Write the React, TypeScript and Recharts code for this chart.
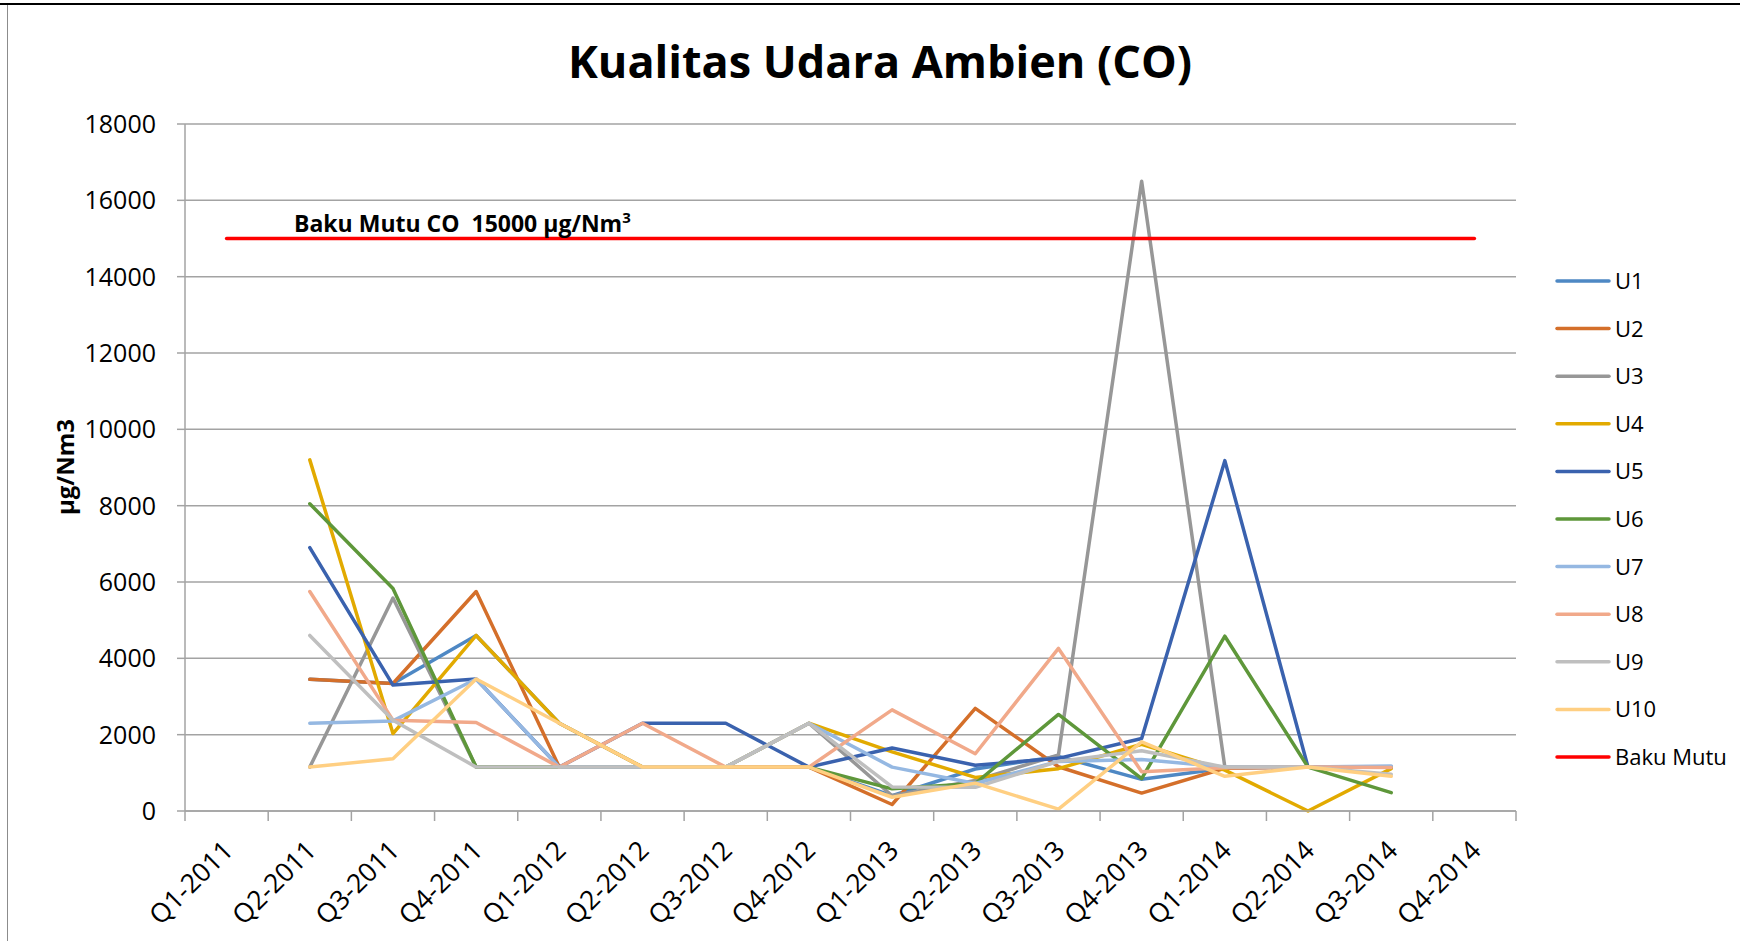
import { LineChart, Line, XAxis, YAxis, CartesianGrid } from 'recharts';

const quarters = [
  'Q1-2011', 'Q2-2011', 'Q3-2011', 'Q4-2011',
  'Q1-2012', 'Q2-2012', 'Q3-2012', 'Q4-2012',
  'Q1-2013', 'Q2-2013', 'Q3-2013', 'Q4-2013',
  'Q1-2014', 'Q2-2014', 'Q3-2014', 'Q4-2014',
];

const u1 = [null, 3450, 3340, 4600, 2300, 1150, 1150, 1150, 400, 1100, 1430, 830, 1120, 1150, 1150, null];
const u2 = [null, 3450, 3340, 5750, 1150, 1150, 1150, 1150, 170, 2690, 1160, 470, 1120, 1150, 1150, null];
const u3 = [null, 1150, 5580, 1150, 1150, 1150, 1150, 2300, 400, 800, 1470, 16500, 1150, 1150, 1150, null];
const u4 = [null, 9200, 2030, 4600, 2300, 1150, 1150, 2300, 1550, 880, 1110, 1750, 1070, 0, 1110, null];
const u5 = [null, 6900, 3300, 3460, 1150, 2300, 2300, 1150, 1650, 1200, 1380, 1900, 9180, 1150, 1150, null];
const u6 = [null, 8050, 5830, 1150, 1150, 1150, 1150, 1150, 580, 720, 2530, 850, 4580, 1150, 480, null];
const u7 = [null, 2300, 2360, 3460, 1150, 1150, 1150, 2300, 1150, 720, 1300, 1350, 1150, 1150, 1180, null];
const u8 = [null, 5750, 2380, 2320, 1150, 2300, 1150, 1150, 2650, 1500, 4260, 1030, 1130, 1150, 1140, null];
const u9 = [null, 4600, 2380, 1150, 1150, 1150, 1150, 2300, 630, 620, 1300, 1580, 1150, 1150, 960, null];
const u10 = [null, 1150, 1370, 3460, 2300, 1150, 1150, 1150, 360, 730, 50, 1810, 910, 1150, 910, null];
const bakuMutu = quarters.map(() => 15000);

const yTicks = [0, 2000, 4000, 6000, 8000, 10000, 12000, 14000, 16000, 18000];

const series = [
  { key: 'U1', values: u1, color: '#4E88C4' },
  { key: 'U2', values: u2, color: '#D46F2A' },
  { key: 'U3', values: u3, color: '#979797' },
  { key: 'U4', values: u4, color: '#E2AA00' },
  { key: 'U5', values: u5, color: '#3A62AE' },
  { key: 'U6', values: u6, color: '#5E973A' },
  { key: 'U7', values: u7, color: '#95B8E2' },
  { key: 'U8', values: u8, color: '#F1A98A' },
  { key: 'U9', values: u9, color: '#BFBFBF' },
  { key: 'U10', values: u10, color: '#FFCF82' },
  { key: 'Baku Mutu', values: bakuMutu, color: '#FF0000' },
];

const data = quarters.map((q, i) => {
  const row: Record<string, string | number | null> = { q };
  series.forEach((s) => {
    row[s.key] = s.values[i];
  });
  return row;
});

const W = 1740;
const H = 941;
const LEFT = 185;
const RIGHT = 1516;
const TOP = 124;
const BOTTOM = 811;
const HALF_BAND = (RIGHT - LEFT) / quarters.length / 2;
const FONT = '"Open Sans", "DejaVu Sans", sans-serif';
const AXIS_GRAY = '#A3A3A3';

function QuarterTick(props: any) {
  const { x, payload, index } = props;
  const last = index === quarters.length - 1;
  const tx = x + 8;
  const ty = BOTTOM + 41;
  return (
    <g>
      <line x1={x - HALF_BAND} y1={BOTTOM} x2={x - HALF_BAND} y2={BOTTOM + 10} stroke={AXIS_GRAY} strokeWidth={1.5} />
      {last && (
        <line x1={x + HALF_BAND} y1={BOTTOM} x2={x + HALF_BAND} y2={BOTTOM + 10} stroke={AXIS_GRAY} strokeWidth={1.5} />
      )}
      <text
        x={tx}
        y={ty}
        transform={`rotate(-45, ${tx}, ${ty})`}
        textAnchor="end"
        fontSize={26.5}
        fontFamily={FONT}
        fill="#000"
      >
        {payload.value}
      </text>
    </g>
  );
}

export default function App() {
  return (
    <div style={{ position: 'absolute', left: 0, top: 0, width: W, height: H, background: '#fff', fontFamily: FONT }}>
      <LineChart width={W} height={H} data={data} margin={{ top: TOP, right: W - RIGHT, left: 0, bottom: 0 }}>
        <CartesianGrid vertical={false} stroke={AXIS_GRAY} strokeWidth={1.5} />
        <XAxis
          dataKey="q"
          height={H - BOTTOM}
          padding={{ left: HALF_BAND, right: HALF_BAND }}
          axisLine={{ stroke: AXIS_GRAY, strokeWidth: 1.5 }}
          tickLine={false}
          tick={<QuarterTick />}
          interval={0}
        />
        <YAxis
          width={LEFT}
          domain={[0, 18000]}
          ticks={yTicks}
          interval={0}
          axisLine={{ stroke: AXIS_GRAY, strokeWidth: 1.5 }}
          tickLine={{ stroke: AXIS_GRAY, strokeWidth: 1.5 }}
          tickSize={8}
          tickMargin={21}
          tick={{ fontSize: 25, fill: '#000', fontFamily: FONT }}
        />
        {series.map((s) => (
          <Line
            key={s.key}
            dataKey={s.key}
            stroke={s.color}
            strokeWidth={3.5}
            strokeLinecap="round"
            strokeLinejoin="round"
            dot={false}
            activeDot={false}
            type="linear"
            isAnimationActive={false}
          />
        ))}
      </LineChart>
      <svg width={W} height={H} style={{ position: 'absolute', left: 0, top: 0, pointerEvents: 'none' }}>
        <rect x={0} y={3} width={W} height={2} fill="#000" />
        <line x1={7.5} y1={5} x2={7.5} y2={H} stroke="#8C8C8C" strokeWidth={1} />
        <text x={880} y={78} textAnchor="middle" fontSize={45} fontWeight="bold" fontFamily={FONT} fill="#000">
          Kualitas Udara Ambien (CO)
        </text>
        <text
          x={64}
          y={467}
          transform="rotate(-90, 64, 467)"
          textAnchor="middle"
          dominantBaseline="central"
          fontSize={24}
          fontWeight="bold"
          fontFamily={FONT}
          fill="#000"
        >
          µg/Nm3
        </text>
        <text x={294} y={232} fontSize={23} fontWeight="bold" fontFamily={FONT} fill="#000" xmlSpace="preserve">
          Baku Mutu CO  15000 µg/Nm<tspan fontSize={15} dy={-9}>3</tspan>
        </text>
        {series.map((s, i) => {
          const cy = 281 + i * 47.6;
          return (
            <g key={s.key}>
              <line x1={1557} y1={cy} x2={1609} y2={cy} stroke={s.color} strokeWidth={3.5} strokeLinecap="round" />
              <text x={1615} y={cy + 8} fontSize={22} fontFamily={FONT} fill="#000">
                {s.key}
              </text>
            </g>
          );
        })}
      </svg>
    </div>
  );
}
